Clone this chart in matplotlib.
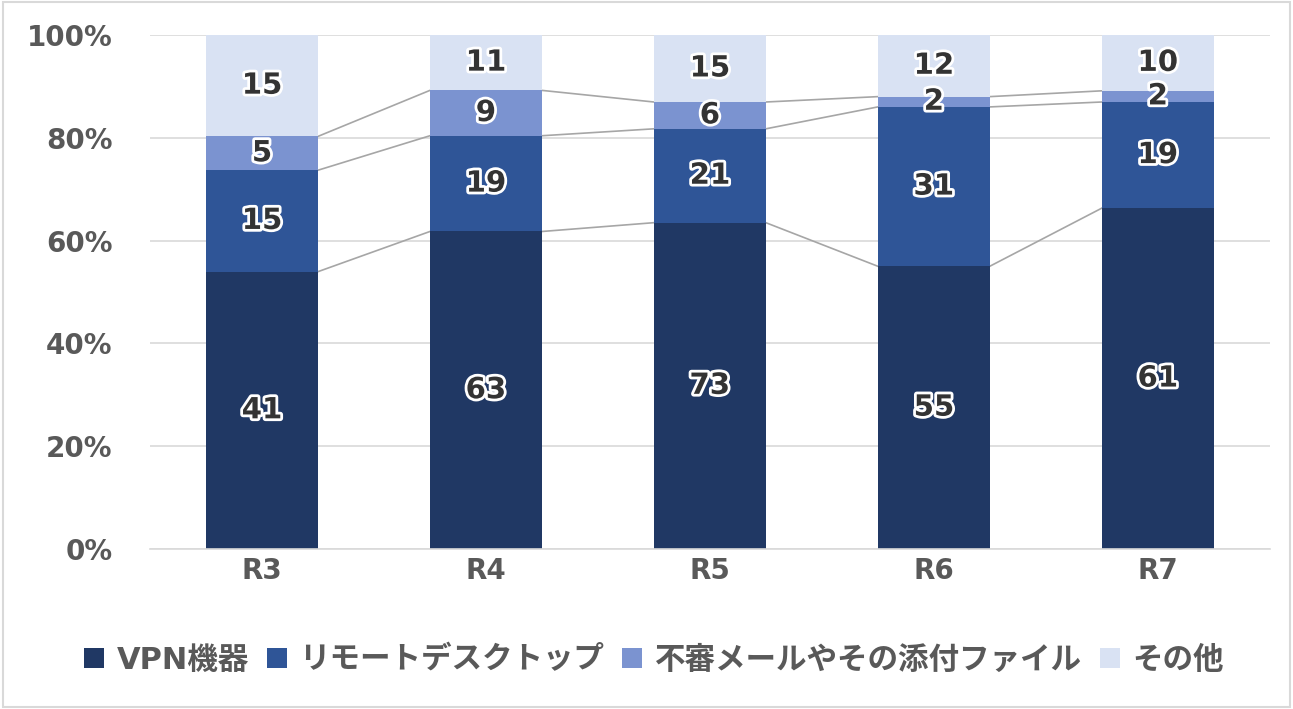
import numpy as np
import matplotlib
matplotlib.use("Agg")
import matplotlib.pyplot as plt
import matplotlib.patheffects as pe
from matplotlib.patches import Rectangle

plt.rcParams['font.family'] = ['DejaVu Sans', 'Noto Sans CJK JP']

# data
years = ["R3", "R4", "R5", "R6", "R7"]
series_names = ["VPN機器", "リモートデスクトップ", "不審メールやその添付ファイル", "その他"]
vpn = [41, 63, 73, 55, 61]
remote = [15, 19, 21, 31, 19]
mail = [5, 9, 6, 2, 2]
other = [15, 11, 15, 12, 10]
colors = ["#203864", "#2F5597", "#7B93D0", "#D9E2F3"]

counts = np.array([vpn, remote, mail, other], dtype=float)
pct = counts / counts.sum(axis=0) * 100

fig = plt.figure(figsize=(12.93, 7.09), dpi=100)
ax = fig.add_axes([0.116, 0.2257, 0.866, 0.725])

x = np.arange(len(years))
width = 0.5
bottom = np.zeros(len(years))
tops = []
for i in range(4):
    ax.bar(x, pct[i], width, bottom=bottom, color=colors[i], label=series_names[i], zorder=2)
    for j in range(len(years)):
        t = ax.text(x[j], bottom[j] + pct[i][j] / 2, "%d" % counts[i][j],
                    ha="center", va="center", fontsize=21, fontweight="bold",
                    color="#333333", zorder=4)
        t.set_path_effects([pe.withStroke(linewidth=4, foreground="white")])
    bottom = bottom + pct[i]
    tops.append(bottom.copy())

# series lines between bars
for k in range(3):
    for j in range(len(years) - 1):
        ax.plot([x[j] + width / 2, x[j + 1] - width / 2], [tops[k][j], tops[k][j + 1]],
                color="#A6A6A6", lw=1.2, zorder=1)

ax.set_xlim(-0.5, 4.5)
ax.set_ylim(0, 100)
ax.set_yticks(np.arange(0, 101, 20))
ax.set_yticklabels(["%d%%" % v for v in range(0, 101, 20)])
ax.set_xticks(x)
ax.set_xticklabels(years)
ax.yaxis.grid(True, color="#D9D9D9", lw=1.2, zorder=0)
ax.set_axisbelow(True)
for s in ["top", "right", "left"]:
    ax.spines[s].set_visible(False)
ax.spines["bottom"].set_color("#D9D9D9")
ax.spines["bottom"].set_linewidth(1.2)
ax.tick_params(length=0, labelsize=20, labelcolor="#595959")
ax.tick_params(axis="y", pad=27)
ax.tick_params(axis="x", pad=6)
for lab in ax.get_xticklabels() + ax.get_yticklabels():
    lab.set_fontweight("bold")

leg = ax.legend(loc="center", bbox_to_anchor=(0.45, -0.216), ncol=4, frameon=False,
                handlelength=0.65, handleheight=0.65, handletextpad=0.4, columnspacing=0.6,
                prop={"size": 22, "weight": "bold"})
for t in leg.get_texts():
    t.set_color("#595959")

fig.patches.append(Rectangle((0.002, 0.003), 0.996, 0.994, transform=fig.transFigure,
                             fill=False, edgecolor="#D9D9D9", lw=1.5))

fig.savefig("out.png", dpi=100)
